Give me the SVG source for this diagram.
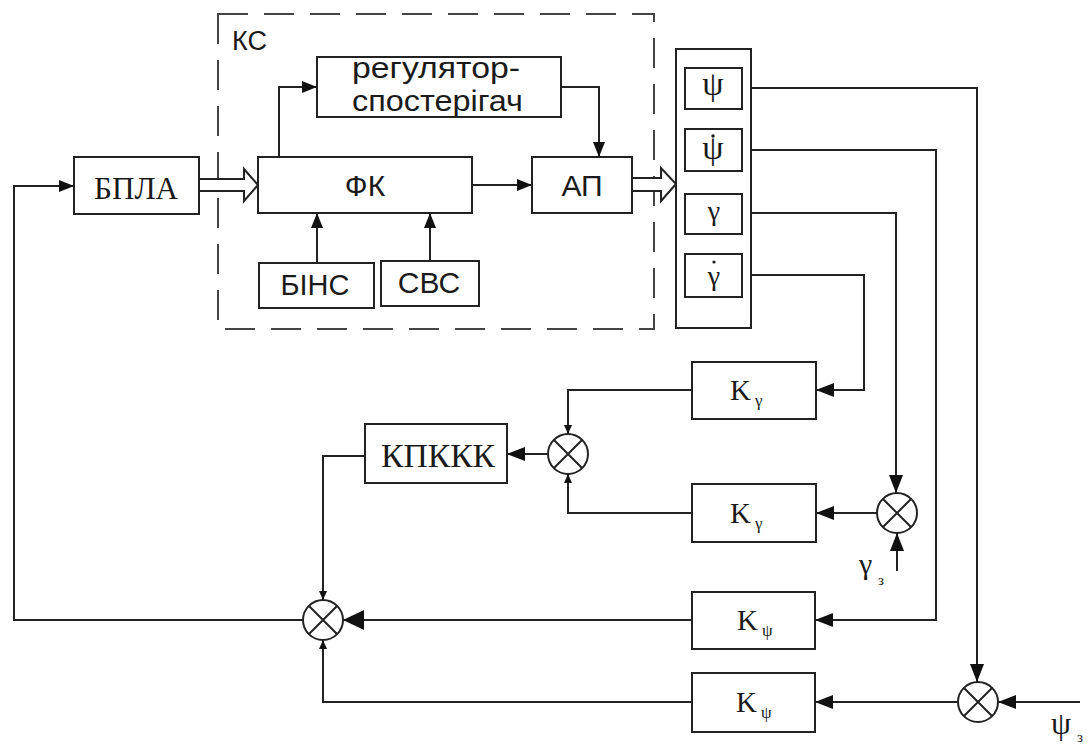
<svg xmlns="http://www.w3.org/2000/svg" width="1089" height="747" viewBox="0 0 1089 747">
<defs>
<style>
.box{fill:#fff;stroke:#222;stroke-width:2}
.ln{fill:none;stroke:#222;stroke-width:2}
.dash{fill:none;stroke:#444;stroke-width:2;stroke-dasharray:30 16}
.sans{font-family:"Liberation Sans",Arial,sans-serif;fill:#1a1a1a}
.serif{font-family:"Liberation Serif","Times New Roman",serif;fill:#1a1a1a}
.sum{fill:#fff;stroke:#222;stroke-width:2}
</style>
<marker id="ah" markerUnits="userSpaceOnUse" markerWidth="20" markerHeight="16" refX="18" refY="8" orient="auto"><path d="M0,1 L18,8 L0,15 Z" fill="#111"/></marker>
<marker id="am" markerUnits="userSpaceOnUse" markerWidth="16" markerHeight="14" refX="15" refY="7" orient="auto"><path d="M0,1 L15,7 L0,13 Z" fill="#111"/></marker>
<marker id="as" markerUnits="userSpaceOnUse" markerWidth="10" markerHeight="10" refX="9" refY="5" orient="auto"><path d="M0,1 L9,5 L0,9 Z" fill="#111"/></marker>
<marker id="ab" markerUnits="userSpaceOnUse" markerWidth="22" markerHeight="20" refX="21" refY="10" orient="auto"><path d="M0,0 L21,10 L0,20 Z" fill="#111"/></marker>
</defs>
<rect width="1089" height="747" fill="#fff"/>

<g id="ks">
<rect class="dash" x="218" y="14" width="436" height="315"/>
<text class="sans" x="232" y="50" font-size="27">КС</text>
</g>

<g id="connectors">
<path class="ln" d="M303,620 H14 V186 H74" marker-end="url(#am)"/>
<path d="M199,179 H244 V169 L258,185 L244,201 V191 H199" fill="#fff" stroke="#222" stroke-width="2" stroke-linejoin="miter"/>
<path class="ln" d="M279,157 V87 H317" marker-end="url(#am)"/>
<path class="ln" d="M561,87 H599 V157" marker-end="url(#am)"/>
<path class="ln" d="M472,185 H532" marker-end="url(#am)"/>
<path class="ln" d="M317,263 V213" marker-end="url(#am)"/>
<path class="ln" d="M430,261 V213" marker-end="url(#am)"/>
<path d="M632,178 H661 V168 L676,184 L661,201 V191 H632" fill="#fff" stroke="#222" stroke-width="2"/>
<path class="ln" d="M742,88 H977 V682" marker-end="url(#ah)"/>
<path class="ln" d="M742,150 H936 V620 H815" marker-end="url(#ah)"/>
<path class="ln" d="M742,213 H896 V493" marker-end="url(#ah)"/>
<path class="ln" d="M742,275 H864 V390 H816" marker-end="url(#ah)"/>
<path class="ln" d="M897,571 V533" marker-end="url(#ah)"/>
<path class="ln" d="M877,513 H816" marker-end="url(#ah)"/>
<path class="ln" d="M692,390 H568 V434" marker-end="url(#as)"/>
<path class="ln" d="M692,513 H568 V474" marker-end="url(#as)"/>
<path class="ln" d="M548,454 H507" marker-end="url(#ah)"/>
<path class="ln" d="M365,456 H323 V600" marker-end="url(#as)"/>
<path class="ln" d="M692,620 H343" marker-end="url(#ab)"/>
<path class="ln" d="M692,702 H323 V640" marker-end="url(#as)"/>
<path class="ln" d="M1080,702 H998" marker-end="url(#ah)"/>
<path class="ln" d="M958,702 H815" marker-end="url(#ah)"/>
</g>

<g id="bpla">
<rect class="box" x="74" y="157" width="125" height="57"/>
<text class="serif" x="94" y="199" font-size="31" textLength="84" lengthAdjust="spacingAndGlyphs">БПЛА</text>
</g>
<g id="fk">
<rect class="box" x="258" y="157" width="214" height="56"/>
<text class="sans" x="365" y="196" font-size="30" text-anchor="middle">ФК</text>
</g>
<g id="reg">
<rect class="box" x="317" y="57" width="244" height="60"/>
<text class="sans" x="352" y="78" font-size="29" textLength="168" lengthAdjust="spacingAndGlyphs">регулятор-</text>
<text class="sans" x="352" y="111" font-size="29" textLength="171" lengthAdjust="spacingAndGlyphs">спостерігач</text>
</g>
<g id="ap">
<rect class="box" x="532" y="157" width="100" height="56"/>
<text class="sans" x="582" y="196" font-size="30" text-anchor="middle">АП</text>
</g>
<g id="bins">
<rect class="box" x="259" y="263" width="115" height="45"/>
<text class="sans" x="315" y="295" font-size="29" text-anchor="middle">БІНС</text>
</g>
<g id="svs">
<rect class="box" x="381" y="261" width="98" height="45"/>
<text class="sans" x="429" y="293" font-size="30" text-anchor="middle">СВС</text>
</g>

<g id="states">
<rect class="box" x="676" y="49" width="75" height="279"/>
<rect class="box" x="685" y="68" width="57" height="41"/>
<text class="serif" x="713" y="95" font-size="34" text-anchor="middle">ψ</text>
<rect class="box" x="685" y="129" width="57" height="42"/>
<text class="serif" x="713" y="159" font-size="34" text-anchor="middle">ψ</text>
<circle cx="713" cy="136" r="1.7" fill="#1a1a1a"/>
<rect class="box" x="685" y="194" width="57" height="40"/>
<text class="serif" x="714" y="220" font-size="28" text-anchor="middle">γ</text>
<rect class="box" x="685" y="254" width="57" height="43"/>
<text class="serif" x="714" y="285" font-size="28" text-anchor="middle">γ</text>
<circle cx="714" cy="262" r="1.6" fill="#1a1a1a"/>
</g>

<g id="kg1">
<rect class="box" x="692" y="362" width="124" height="57"/>
<text class="serif" x="730" y="400" font-size="29">K</text>
<text class="serif" x="755" y="406" font-size="17">γ</text>
</g>
<g id="kg2">
<rect class="box" x="692" y="484" width="124" height="58"/>
<text class="serif" x="730" y="523" font-size="29">K</text>
<text class="serif" x="755" y="529" font-size="17">γ</text>
</g>
<g id="kp1">
<rect class="box" x="692" y="592" width="123" height="57"/>
<text class="serif" x="737" y="630" font-size="29">K</text>
<text class="serif" x="762" y="636" font-size="17">ψ</text>
</g>
<g id="kp2">
<rect class="box" x="692" y="673" width="123" height="59"/>
<text class="serif" x="736" y="712" font-size="29">K</text>
<text class="serif" x="761" y="718" font-size="17">ψ</text>
</g>
<g id="kpkkk">
<rect class="box" x="365" y="424" width="142" height="59"/>
<text class="serif" x="381" y="467" font-size="33" textLength="114" lengthAdjust="spacingAndGlyphs">КПККК</text>
</g>

<g id="sum1">
<circle class="sum" cx="568" cy="454" r="20"/>
<path class="ln" d="M554,440 L582,468 M582,440 L554,468"/>
</g>
<g id="sum2">
<circle class="sum" cx="897" cy="513" r="20"/>
<path class="ln" d="M883,499 L911,527 M911,499 L883,527"/>
</g>
<g id="sum3">
<circle class="sum" cx="323" cy="620" r="20"/>
<path class="ln" d="M309,606 L337,634 M337,606 L309,634"/>
</g>
<g id="sum4">
<circle class="sum" cx="978" cy="702" r="20"/>
<path class="ln" d="M964,688 L992,716 M992,688 L964,716"/>
</g>

<g id="gz">
<text class="serif" x="859" y="574" font-size="30">γ</text>
<text class="serif" x="878" y="585" font-size="15">з</text>
</g>
<g id="pz">
<text class="serif" x="1051" y="734" font-size="32">ψ</text>
<text class="serif" x="1077" y="742" font-size="15">з</text>
</g>
</svg>
